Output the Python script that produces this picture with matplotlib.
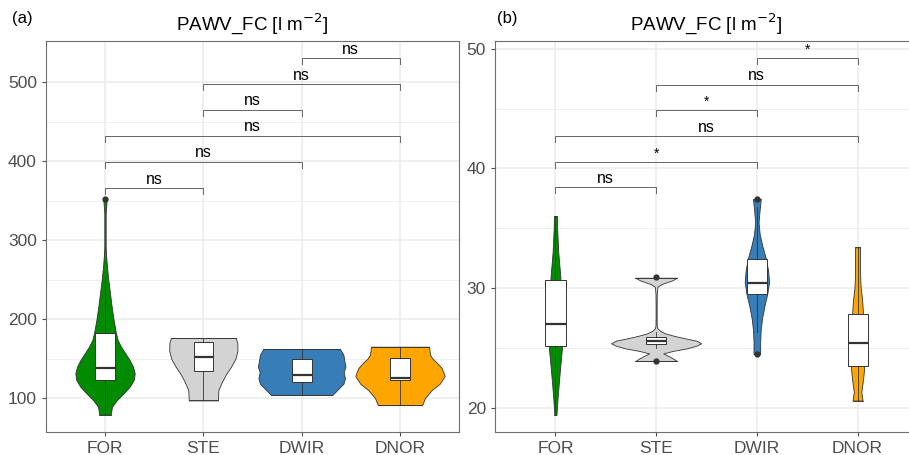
import matplotlib
matplotlib.use("Agg")
import matplotlib.pyplot as plt
import numpy as np

plt.rcParams['font.family'] = ['Liberation Sans', 'DejaVu Sans']

cats = ["FOR", "STE", "DWIR", "DNOR"]
colors = ["#008B00", "#D3D3D3", "#377EB8", "#FFA500"]

# panel (a): violin outlines (value, half width in category units)
a_violin_y = [
    [79, 89, 97.5, 106, 114.3, 122.8, 131.2, 139.6, 148, 156.5, 165, 173.4, 181.9, 198.7,
     215.6, 232.5, 249.4, 266.2, 283, 291.5, 333.8, 350.6, 352],
    [97, 110, 120, 130, 140, 150, 160, 170, 176],
    [104, 110, 118, 125, 133, 140, 145, 155, 160, 162],
    [91, 100, 110, 118, 128, 138, 145, 150, 155, 160, 165],
]
a_violin_w = [
    [0.058, 0.071, 0.122, 0.19, 0.251, 0.292, 0.302, 0.285, 0.251, 0.207, 0.163, 0.129, 0.112,
     0.088, 0.068, 0.051, 0.034, 0.02, 0.01, 0.007, 0.007, 0.017, 0.015],
    [0.148, 0.153, 0.187, 0.23, 0.283, 0.327, 0.347, 0.345, 0.33],
    [0.313, 0.36, 0.424, 0.44, 0.427, 0.446, 0.437, 0.424, 0.40, 0.39],
    [0.225, 0.254, 0.322, 0.403, 0.455, 0.424, 0.373, 0.33, 0.305, 0.30, 0.295],
]
a_q1 = [122.8, 134.6, 120.3, 122.8]
a_med = [137.5, 151.9, 128.7, 125.3]
a_q3 = [182, 171.3, 149, 150.2]
a_whislo = [79, 97, 104, 91]
a_whishi = [253, 176, 162, 164]
a_outliers = [[352], [], [], []]
a_pairs = [(1, 2), (1, 3), (1, 4), (2, 3), (2, 4), (3, 4)]
a_bracket_y = [366, 399, 432, 465, 497, 530]
a_labels = ["ns", "ns", "ns", "ns", "ns", "ns"]

# panel (b)
b_violin_y = [
    [19.4, 21, 23, 25, 27, 29, 31, 33, 35, 36],
    [23.9, 24.1, 24.26, 24.54, 24.75, 24.96, 25.18, 25.38, 25.6, 25.8, 26.0, 26.21, 26.42,
     26.63, 26.85, 27.5, 28.5, 29.5, 30.1, 30.33, 30.63, 30.86],
    [24.5, 25.5, 26.5, 27.5, 28.5, 29.5, 30.5, 31.5, 32.5, 33.5, 34.5, 35.5, 36.5, 37.4],
    [20.6, 21.3, 22.4, 23.1, 24, 25, 26, 27, 28, 29, 30.1, 31.2, 32.3, 33.4],
]
b_violin_w = [
    [0.01, 0.023, 0.043, 0.065, 0.068, 0.06, 0.048, 0.028, 0.017, 0.015],
    [0.207, 0.17, 0.136, 0.07, 0.17, 0.306, 0.4, 0.447, 0.40, 0.285, 0.18, 0.09, 0.04,
     0.013, 0.006, 0.005, 0.005, 0.006, 0.013, 0.053, 0.157, 0.207],
    [0.033, 0.033, 0.038, 0.052, 0.075, 0.103, 0.121, 0.111, 0.088, 0.055, 0.028, 0.017, 0.027, 0.038],
    [0.05, 0.037, 0.055, 0.063, 0.07, 0.07, 0.065, 0.058, 0.053, 0.045, 0.03, 0.025, 0.025, 0.025],
]
b_q1 = [25.18, 25.32, 29.47, 23.48]
b_med = [27.02, 25.6, 30.44, 25.43]
b_q3 = [30.67, 25.9, 32.42, 27.8]
b_whislo = [19.4, 25.0, 26.3, 20.6]
b_whishi = [36.0, 26.3, 36.8, 33.4]
b_outliers = [[], [23.9, 30.9], [24.5, 37.4], []]
b_pairs = [(1, 2), (1, 3), (1, 4), (2, 3), (2, 4), (3, 4)]
b_bracket_y = [38.4, 40.5, 42.7, 44.9, 47.0, 49.2]
b_labels = ["ns", "*", "ns", "*", "ns", "*"]

fig = plt.figure(figsize=(9.09, 4.55), dpi=100)
ax_a = fig.add_axes([46 / 909, 1 - 432 / 455, 413 / 909, 391 / 455])
ax_b = fig.add_axes([495 / 909, 1 - 432 / 455, 423 / 909, 391 / 455])


def draw_panel(ax, vy, vw, q1, med, q3, wlo, whi, outl, pairs, by, labels, tip,
               ylim, major, minor):
    ax.set_xlim(0.4, 4.6)
    ax.set_ylim(*ylim)
    ax.set_yticks(major)
    ax.set_yticks(minor, minor=True)
    ax.set_xticks(range(1, 5))
    ax.set_xticklabels(cats)
    ax.grid(True, which="major", color="#EBEBEB", lw=1.1, zorder=0)
    ax.grid(True, which="minor", axis="y", color="#EBEBEB", lw=0.55, zorder=0)
    ax.set_axisbelow(True)
    for s in ax.spines.values():
        s.set_color("#6E6E6E")
        s.set_linewidth(0.8)
    ax.tick_params(axis="both", which="major", labelsize=12.5, labelcolor="#4D4D4D",
                   color="#4D4D4D", length=3, width=0.8)
    ax.tick_params(axis="y", which="minor", length=0)

    for i in range(4):
        y = np.array(vy[i])
        w = np.array(vw[i])
        ax.fill_betweenx(y, i + 1 - w, i + 1 + w, facecolor=colors[i],
                         edgecolor="#333333", lw=0.6, zorder=2)
        ax.plot([i + 1 - w[0], i + 1 + w[0]], [y[0], y[0]], color="#333333", lw=0.6, zorder=2)
        ax.plot([i + 1 - w[-1], i + 1 + w[-1]], [y[-1], y[-1]], color="#333333", lw=0.6, zorder=2)

    stats = []
    for i in range(4):
        stats.append(dict(q1=q1[i], med=med[i], q3=q3[i], whislo=wlo[i], whishi=whi[i],
                          fliers=outl[i]))
    ax.bxp(stats, positions=range(1, 5), widths=0.2, patch_artist=True, showcaps=False,
           boxprops=dict(facecolor="white", edgecolor="#333333", lw=0.7),
           whiskerprops=dict(color="#333333", lw=0.6),
           medianprops=dict(color="#333333", lw=1.6),
           flierprops=dict(marker="o", markerfacecolor="#333333", markeredgecolor="#333333",
                           markersize=3.5),
           zorder=3, manage_ticks=False)

    for (x1, x2), yb, lab in zip(pairs, by, labels):
        ax.plot([x1, x1, x2, x2], [yb - tip, yb, yb, yb - tip], color="#666666", lw=0.7,
                zorder=4, clip_on=False)
        fs = 11.5 if lab == "ns" else 10
        ax.annotate(lab, xy=((x1 + x2) / 2, yb), xytext=(0, 1), textcoords="offset points",
                    ha="center", va="bottom", fontsize=fs, color="black")

    ax.set_title("PAWV_FC [l m$^{-2}$]", fontsize=13.5, pad=8)


draw_panel(ax_a, a_violin_y, a_violin_w, a_q1, a_med, a_q3, a_whislo, a_whishi, a_outliers,
           a_pairs, a_bracket_y, a_labels, 7.5, (57, 552), [100, 200, 300, 400, 500],
           [150, 250, 350, 450], )
draw_panel(ax_b, b_violin_y, b_violin_w, b_q1, b_med, b_q3, b_whislo, b_whishi, b_outliers,
           b_pairs, b_bracket_y, b_labels, 0.5, (17.97, 50.64), [20, 30, 40, 50],
           [25, 35, 45])

fig.text(12 / 909, 1 - 18 / 455, "(a)", fontsize=12, va="center", ha="left")
fig.text(497 / 909, 1 - 18 / 455, "(b)", fontsize=12, va="center", ha="left")

fig.savefig("out.png", dpi=100)
